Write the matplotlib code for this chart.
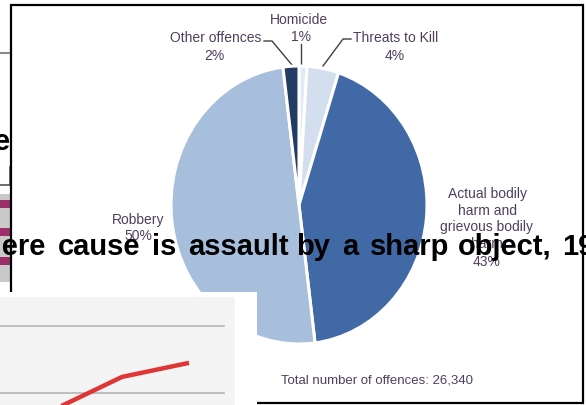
import matplotlib
matplotlib.use("Agg")
import matplotlib.pyplot as plt
from matplotlib.patches import Rectangle

# ---------------- data ----------------
categories = ["Homicide", "Threats to Kill", "Actual bodily\nharm and\ngrievous bodily\nharm", "Robbery", "Other offences"]
shares = [1, 4, 43, 50, 2]
pct_labels = ["1%", "4%", "43%", "50%", "2%"]
total_text = "Total number of offences: 26,340"

overlay_words = ["here", "cause", "is", "assault", "by", "a", "sharp", "object,", "19"]

line_x = [1, 2, 3]
line_y = [1.76, 2.24, 2.45]
grid_vals = [2, 3]

# ---------------- styles ----------------
W, H = 586, 406
slice_colors = ["#e2e9f3", "#d3deee", "#4169a6", "#a7bedd", "#233c63"]
label_color = "#4f3f5e"
FONT = "Liberation Sans"

fig = plt.figure(figsize=(W / 100, H / 100), dpi=100)
fig.patch.set_facecolor("white")

def fbox(x0, y0, x1, y1):
    return [x0 / W, 1 - y1 / H, (x1 - x0) / W, (y1 - y0) / H]

# background layer in pixel coords (y downward)
bg = fig.add_axes([0, 0, 1, 1], zorder=0)
bg.set_xlim(0, W)
bg.set_ylim(H, 0)
bg.axis("off")

# left table fragment
bg.plot([0, 11], [54, 54], color="#8a8a8a", lw=1.5)
bg.text(10, 150, "e", fontsize=21, fontweight="bold", family=FONT, ha="right", va="baseline", color="black")
bg.plot([0, 10], [186, 186], color="#555555", lw=1.2)
bg.plot([10, 10], [168, 186], color="#555555", lw=1.2)
bg.add_patch(Rectangle((0, 195), 10, 88, facecolor="#c9c9c9", edgecolor="none"))
for yb in (201, 229, 258):
    bg.add_patch(Rectangle((0, yb), 10, 8, facecolor="#9c2f69", edgecolor="none"))

# pie panel frame
bg.add_patch(Rectangle((11, 6), 572, 398, facecolor="white", edgecolor="black", lw=1.6, zorder=2))

# labels
kw = dict(fontsize=10, family=FONT, color=label_color, ha="center", va="center", zorder=3, linespacing=1.22)
bg.text(299, 20, categories[0], **kw)
bg.text(301, 37, pct_labels[0], **kw)
bg.text(396, 38, categories[1], **kw)
bg.text(395, 56, pct_labels[1], **kw)
bg.text(216, 38, categories[4], **kw)
bg.text(214, 56, pct_labels[4], **kw)
bg.text(138, 220, categories[3], **kw)
bg.text(138, 236, pct_labels[3], **kw)
bg.text(487, 219, categories[2], **kw)
bg.text(487, 262, pct_labels[2], **kw)
bg.text(377, 381, total_text, fontsize=9.5, family=FONT, color=label_color, ha="center", va="center", zorder=3)

# leader lines
lk = dict(color="#404040", lw=1.0, zorder=3)
bg.plot([264, 272, 292], [42, 42, 66], **lk)
bg.plot([301, 301], [45, 66], **lk)
bg.plot([351, 343, 323], [40, 40, 67], **lk)

# pie
pax = fig.add_axes(fbox(171, 67, 427, 345), zorder=1)
pax.pie(shares, colors=slice_colors, startangle=90, counterclock=False,
        wedgeprops=dict(edgecolor="white", linewidth=2.2))
pax.set_xlim(-1, 1)
pax.set_ylim(-1, 1)
pax.set_aspect("auto")
pax.axis("off")
pax.patch.set_alpha(0)

# overlay layer
ov = fig.add_axes([0, 0, 1, 1], zorder=2)
ov.set_xlim(0, W)
ov.set_ylim(H, 0)
ov.axis("off")
ov.patch.set_alpha(0)
word_x = [-16, 58, 152, 188, 296, 342, 370, 458, 562]
for wx, wd in zip(word_x, overlay_words):
    ov.text(wx, 255, wd, fontsize=21, fontweight="bold", family=FONT, color="black",
            ha="left", va="baseline", clip_on=False)
ov.add_patch(Rectangle((0, 293), 257, 120, facecolor="white", edgecolor="none"))

# line chart fragment
lax = fig.add_axes(fbox(0, 298, 235, 406), zorder=3)
lax.set_facecolor("#f4f4f4")
for s in lax.spines.values():
    s.set_visible(False)
lax.set_xticks([])
lax.set_yticks([])
lax.set_xlim(12 / 67, 247 / 67)
lax.set_ylim(2 - 12 / 67, 3 + 29 / 67)
for g in grid_vals:
    lax.axhline(g, xmin=0, xmax=224 / 235, color="#b5b5b5", lw=1.2)
lax.plot(line_x, line_y, color="#e03536", lw=3.2, solid_capstyle="butt")

fig.savefig("out.png", dpi=100)
